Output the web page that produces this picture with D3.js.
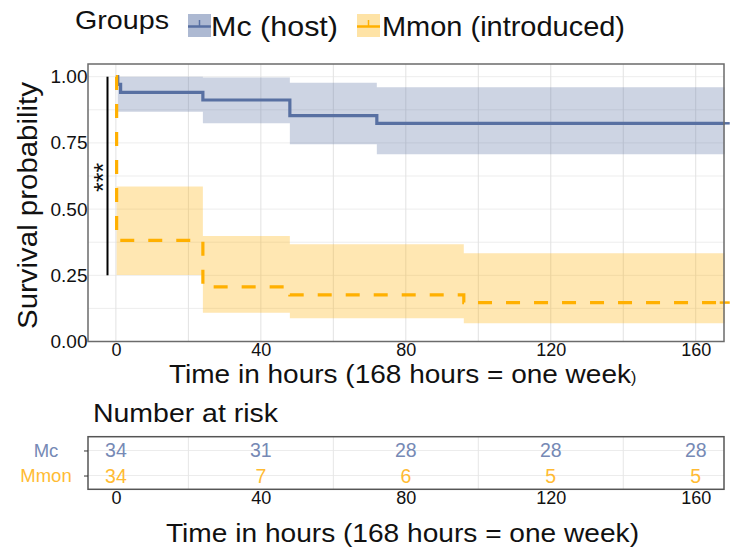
<!DOCTYPE html>
<html>
<head>
<meta charset="utf-8">
<script src="https://cdn.jsdelivr.net/npm/d3@7"></script>
<style>
    body { margin: 0; background: #fff; }
    text { font-family: "Liberation Sans", Arial, sans-serif; fill: #111; }
</style>
</head>
<body>
<svg id="chart" width="736" height="553"></svg>
<script>
// survival curves (time in hours)
var mcTime = [0, 0.5, 1.3, 24, 48, 72, 168];
var mcSurv = [1, 0.971, 0.941, 0.912, 0.853, 0.824, 0.824];
var mcUpper = [1, 1, 1, 0.997, 0.977, 0.96, 0.96];
var mcLower = [1, 0.868, 0.868, 0.824, 0.745, 0.707, 0.707];

var mmonTime = [0, 0.2, 24, 48, 96, 168];
var mmonSurv = [1, 0.382, 0.206, 0.176, 0.147, 0.147];
var mmonUpper = [1, 0.585, 0.398, 0.367, 0.333, 0.333];
var mmonLower = [1, 0.251, 0.109, 0.088, 0.069, 0.069];

var groupLabels = ["Mc (host)", "Mmon (introduced)"];
var riskLabels = ["Mc", "Mmon"];
var riskTimes = [0, 40, 80, 120, 160];
var mcRisk = [34, 31, 28, 28, 28];
var mmonRisk = [34, 7, 6, 5, 5];

var xTicks = [0, 40, 80, 120, 160];
var xGrid = [0, 20, 40, 60, 80, 100, 120, 140, 160];
var riskGrid = [20, 60, 100, 140];
var yTicks = [0, 0.25, 0.5, 0.75, 1];
var yGrid = [0, 0.125, 0.25, 0.375, 0.5, 0.625, 0.75, 0.875, 1];
var xTitle = "Time in hours (168 hours = one week";

var cfg = {
    left: 88, right: 724, top: 64, bottom: 341.5,
    riskTop: 436.7, riskBottom: 489.3,
    blue: "#5870a2", orange: "#ffb000",
    blueText: "#7689b5", orangeText: "#ffbb33",
    alpha: 0.3,
};

var svg = d3.select("#chart");
var x = d3.scaleLinear().domain([-7.7, 167.8]).range([cfg.left, cfg.right]);
var y = d3.scaleLinear().domain([0, 1]).range([341.5, 76.7]);
var yRisk = d3.scalePoint().domain(riskLabels).range([cfg.riskTop, cfg.riskBottom]).padding(0.55);

function rows(time, surv, lo, hi) {
    return time.map((t, i) => ({ t: t, s: surv[i], lo: lo[i], hi: hi[i] }));
}

// text stretched to the width it takes in the picture
function wideText(g, x0, y0, size, len, str) {
    return g.append("text")
        .attr("x", x0).attr("y", y0)
        .attr("textLength", len).attr("lengthAdjust", "spacingAndGlyphs")
        .style("font-size", size + "px")
        .text(str);
}

function drawPanel() {
    var g = svg.append("g");
    g.selectAll(".hgrid").data(yGrid).enter().append("line")
        .attr("x1", cfg.left).attr("x2", cfg.right)
        .attr("y1", d => y(d)).attr("y2", d => y(d))
        .style("stroke", "#ededed");
    g.selectAll(".vgrid").data(xGrid).enter().append("line")
        .attr("x1", d => x(d)).attr("x2", d => x(d))
        .attr("y1", cfg.top).attr("y2", cfg.bottom)
        .style("stroke", "#e2e2e2");

    var series = [
        { d: rows(mcTime, mcSurv, mcLower, mcUpper), col: cfg.blue, dash: null },
        { d: rows(mmonTime, mmonSurv, mmonLower, mmonUpper), col: cfg.orange, dash: "14,14" },
    ];
    var area = d3.area().curve(d3.curveStepAfter)
        .x(d => x(d.t)).y0(d => y(d.lo)).y1(d => y(d.hi));
    var line = d3.line().curve(d3.curveStepAfter)
        .x(d => x(d.t)).y(d => y(d.s));

    for (let s of series) {
        g.append("path").attr("d", area(s.d))
            .style("fill", s.col).style("fill-opacity", cfg.alpha);
    }
    for (let s of series) {
        g.append("path").attr("d", line(s.d))
            .style("fill", "none").style("stroke", s.col)
            .style("stroke-width", 3.2)
            .style("stroke-dasharray", s.dash);
        // censor mark at the end of follow-up
        var last = s.d[s.d.length - 1];
        g.append("line")
            .attr("x1", x(last.t) - 5).attr("x2", x(last.t) + 5)
            .attr("y1", y(last.s)).attr("y2", y(last.s))
            .style("stroke", s.col).style("stroke-width", 2.5);
    }

    g.append("rect")
        .attr("x", cfg.left).attr("y", cfg.top)
        .attr("width", cfg.right - cfg.left).attr("height", cfg.bottom - cfg.top)
        .style("fill", "none").style("stroke", "#6b6b6b").style("stroke-width", 1.5);

    // significance bar
    g.append("line")
        .attr("x1", 107.5).attr("x2", 107.5)
        .attr("y1", y(1)).attr("y2", y(0.25))
        .style("stroke", "#000").style("stroke-width", 2);
    g.append("text")
        .attr("transform", `translate(112,${y(0.62)}) rotate(-90)`)
        .attr("text-anchor", "middle")
        .style("font-size", "25px")
        .text("***");

    var xAxis = g.append("g")
        .attr("transform", `translate(0,${cfg.bottom})`)
        .call(d3.axisBottom(x).tickValues(xTicks).tickSize(0).tickPadding(1.5));
    xAxis.select(".domain").remove();
    xAxis.selectAll("text").style("font-size", "18px").style("fill", "#111");

    var yAxis = g.append("g")
        .attr("transform", `translate(${cfg.left},0)`)
        .call(d3.axisLeft(y).tickValues(yTicks).tickFormat(d3.format(".2f")).tickSize(0).tickPadding(0.5));
    yAxis.select(".domain").remove();
    yAxis.selectAll("text").style("font-size", "19px").style("fill", "#111");

    wideText(g, 0, 0, 27, 247, "Survival probability")
        .attr("transform", "translate(37,329) rotate(-90)");

    var t = g.append("text")
        .attr("x", 169).attr("y", 382.5)
        .style("font-size", "26.5px");
    t.append("tspan")
        .attr("textLength", 462).attr("lengthAdjust", "spacingAndGlyphs")
        .text(xTitle);
    t.append("tspan").style("font-size", "16px").text(")");
}

function drawLegend() {
    var g = svg.append("g");
    wideText(g, 75, 29, 26, 94, "Groups");

    var keys = [
        { x: 188, col: cfg.blue, fill: "#adb9d2", label: groupLabels[0], lx: 211, len: 127 },
        { x: 357, col: cfg.orange, fill: "#fee3a6", label: groupLabels[1], lx: 382, len: 243 },
    ];
    for (let k of keys) {
        g.append("rect").attr("x", k.x).attr("y", 14)
            .attr("width", 23).attr("height", 23).style("fill", k.fill);
        g.append("line").attr("x1", k.x).attr("x2", k.x + 23)
            .attr("y1", 26.5).attr("y2", 26.5)
            .style("stroke", k.col).style("stroke-width", 2.5);
        g.append("line").attr("x1", k.x + 11.5).attr("x2", k.x + 11.5)
            .attr("y1", 20).attr("y2", 26.5)
            .style("stroke", k.col).style("stroke-width", 1.5);
        wideText(g, k.lx, 36, 28, k.len, k.label);
    }
}

function drawRiskTable() {
    var g = svg.append("g");
    wideText(g, 93, 421.7, 25.5, 185, "Number at risk");

    g.selectAll(".rgrid").data(riskLabels).enter().append("line")
        .attr("x1", cfg.left).attr("x2", cfg.right)
        .attr("y1", d => yRisk(d)).attr("y2", d => yRisk(d))
        .style("stroke", "#ececec");
    g.selectAll(".vgrid").data(riskGrid).enter().append("line")
        .attr("x1", d => x(d)).attr("x2", d => x(d))
        .attr("y1", cfg.riskTop).attr("y2", cfg.riskBottom)
        .style("stroke", "#e6e6e6");

    var tab = [
        { lab: riskLabels[0], vals: mcRisk, col: cfg.blueText },
        { lab: riskLabels[1], vals: mmonRisk, col: cfg.orangeText },
    ];
    for (let r of tab) {
        g.selectAll(null).data(riskTimes).enter().append("text")
            .attr("x", d => x(d)).attr("y", yRisk(r.lab))
            .attr("dy", "0.36em")
            .attr("text-anchor", "middle")
            .style("font-size", "19.5px")
            .style("fill", r.col)
            .text((d, i) => r.vals[i]);
    }

    g.append("rect")
        .attr("x", cfg.left).attr("y", cfg.riskTop)
        .attr("width", cfg.right - cfg.left).attr("height", cfg.riskBottom - cfg.riskTop)
        .style("fill", "none").style("stroke", "#555").style("stroke-width", 1.5);

    var xAxis = g.append("g")
        .attr("transform", `translate(0,${cfg.riskBottom})`)
        .call(d3.axisBottom(x).tickValues(xTicks).tickSize(0).tickPadding(2));
    xAxis.select(".domain").remove();
    xAxis.selectAll("text").style("font-size", "18px").style("fill", "#111");

    var yAxis = g.append("g")
        .attr("transform", `translate(${cfg.left},0)`)
        .call(d3.axisLeft(yRisk).tickSize(4));
    yAxis.select(".domain").remove();
    yAxis.selectAll("line").style("stroke", "#333");
    yAxis.selectAll("text")
        .attr("x", 46 - cfg.left)
        .attr("text-anchor", "middle")
        .style("font-size", "18.5px")
        .style("fill", (d, i) => tab[i].col);

    wideText(g, 166, 541.7, 26.5, 473, xTitle + ")");
}

drawPanel();
drawLegend();
drawRiskTable();
</script>
</body>
</html>
